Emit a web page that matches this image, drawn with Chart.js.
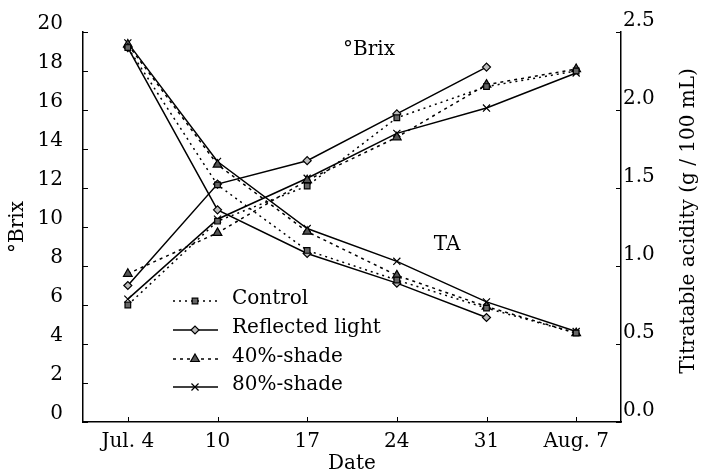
<!DOCTYPE html>
<html>
<head>
<meta charset="utf-8">
<script src="https://cdn.jsdelivr.net/npm/chart.js@4/dist/chart.umd.min.js"></script>
<style>
  body { margin: 0; background: #fff; }
  #wrap { width: 707px; height: 476px; }
</style>
</head>
<body>
<div id="wrap"><canvas id="chart" width="707" height="476"></canvas></div>
<script>
// sampling dates
const dates = ['Jul. 4', '10', '17', '24', '31', 'Aug. 7'];

// °Brix (left axis)
const brixControl   = [6.0, 10.3, 12.1, 15.6, 17.2, 18.0];
const brixReflected = [7.0, 12.2, 13.4, 15.8, 18.2, null];
const brixShade40   = [7.6, 9.7, 12.4, 14.6, 17.3, 18.1];
const brixShade80   = [6.3, 10.4, 12.5, 14.8, 16.1, 17.9];

// titratable acidity, g / 100 mL (right axis)
const taControl   = [2.40, 1.52, 1.10, 0.91, 0.73, 0.57];
const taReflected = [2.40, 1.36, 1.08, 0.89, 0.67, null];
const taShade40   = [2.42, 1.65, 1.22, 0.94, 0.74, 0.57];
const taShade80   = [2.43, 1.67, 1.24, 1.03, 0.77, 0.58];

const treatments = ['Control', 'Reflected light', '40%-shade', '80%-shade'];
const brixTicks = [0, 2, 4, 6, 8, 10, 12, 14, 16, 18, 20];
const taTicks = [0, 0.5, 1.0, 1.5, 2.0, 2.5];

const FONT = 'DejaVu Serif';
const FS = 20;

const styles = [
    { pointStyle: 'rect', radius: 4, fill: '#666', dash: [2, 4] },
    { pointStyle: 'rectRot', radius: 4, fill: '#bbb', dash: [] },
    { pointStyle: 'triangle', radius: 5, fill: '#555', dash: [3, 4] },
    { pointStyle: 'crossRot', radius: 5, fill: '#000', dash: [] }
];

function makeSet(label, data, st, axis) {
    return {
        label: label,
        data: data,
        yAxisID: axis,
        borderColor: '#000',
        borderWidth: 1.5,
        borderDash: st.dash,
        pointStyle: st.pointStyle,
        pointRadius: st.radius,
        pointBackgroundColor: st.fill,
        pointBorderColor: '#000',
        pointBorderWidth: 1.2,
        tension: 0,
        spanGaps: false
    };
}

const brixSeries = [brixControl, brixReflected, brixShade40, brixShade80];
const taSeries = [taControl, taReflected, taShade40, taShade80];
const datasets = [];
treatments.forEach(function (t, i) {
    datasets.push(makeSet(t, brixSeries[i], styles[i], 'y'));
    datasets.push(makeSet(t + ' TA', taSeries[i], styles[i], 'y1'));
});

// inward tick marks, in-plot labels, right title and legend
const decorations = {
    id: 'decorations',
    afterDraw: function (chart) {
        const ctx = chart.ctx;
        const area = chart.chartArea;
        const sx = chart.scales.x, sy = chart.scales.y, sy1 = chart.scales.y1;
        ctx.save();
        ctx.strokeStyle = '#000';
        ctx.lineWidth = 1;
        ctx.beginPath();
        sy.ticks.forEach(function (t) {
            const y = Math.round(sy.getPixelForValue(t.value)) + 0.5;
            ctx.moveTo(area.left, y); ctx.lineTo(area.left + 5, y);
        });
        sy1.ticks.forEach(function (t) {
            const y = Math.round(sy1.getPixelForValue(t.value)) + 0.5;
            ctx.moveTo(area.right, y); ctx.lineTo(area.right - 5, y);
        });
        dates.forEach(function (d, i) {
            const x = Math.round(sx.getPixelForValue(i)) + 0.5;
            ctx.moveTo(x, area.bottom); ctx.lineTo(x, area.bottom - 5);
        });
        ctx.stroke();

        ctx.fillStyle = '#000';
        ctx.font = FS + 'px "' + FONT + '"';
        ctx.textBaseline = 'middle';
        ctx.textAlign = 'center';
        ctx.fillText('°Brix', 369, 50);
        ctx.fillText('TA', 447, 245);

        // right axis title, reading bottom to top
        ctx.save();
        ctx.translate(689, 221);
        ctx.rotate(-Math.PI / 2);
        ctx.fillText('Titratable acidity (g / 100 mL)', 0, 0);
        ctx.restore();

        // legend
        ctx.textAlign = 'left';
        const rows = [299, 328, 357, 385];
        treatments.forEach(function (t, i) {
            const st = styles[i];
            const y = rows[i] + 2;
            ctx.save();
            ctx.setLineDash(st.dash);
            ctx.lineWidth = 1.5;
            ctx.beginPath();
            ctx.moveTo(173, y); ctx.lineTo(218, y);
            ctx.stroke();
            ctx.restore();
            ctx.save();
            ctx.fillStyle = st.fill;
            ctx.strokeStyle = '#000';
            ctx.lineWidth = 1.2;
            Chart.helpers.drawPoint(ctx, { pointStyle: st.pointStyle, radius: st.radius, borderWidth: 1.2 }, 195, y);
            ctx.restore();
            ctx.fillText(t, 232, rows[i]);
        });
        ctx.restore();
    }
};

new Chart(document.getElementById('chart'), {
    type: 'line',
    data: { labels: dates, datasets: datasets },
    options: {
        responsive: false,
        animation: false,
        layout: { padding: { top: 25, left: 0, right: 0, bottom: 0 } },
        plugins: {
            legend: { display: false },
            tooltip: { enabled: false }
        },
        scales: {
            x: {
                type: 'category',
                offset: true,
                grid: { display: false, drawTicks: false },
                border: { display: true, color: '#000', width: 1.5 },
                ticks: { color: '#000', font: { family: FONT, size: FS }, padding: 8, maxRotation: 0 },
                title: { display: true, text: 'Date', color: '#000', font: { family: FONT, size: FS }, padding: { top: 0, bottom: 0 } },
                afterFit: function (s) { s.height = 54; }
            },
            y: {
                position: 'left',
                min: 0, max: 20,
                grid: { display: false, drawTicks: false },
                border: { display: true, color: '#000', width: 1.5 },
                afterBuildTicks: function (s) { s.ticks = brixTicks.map(function (v) { return { value: v }; }); },
                ticks: { color: '#000', font: { family: FONT, size: FS }, padding: 20, labelOffset: -8 },
                title: { display: true, text: '°Brix', color: '#000', font: { family: FONT, size: FS }, padding: { top: 6, bottom: 0 } },
                afterFit: function (s) { s.width = 83; }
            },
            y1: {
                position: 'right',
                min: 0, max: 2.5,
                grid: { display: false, drawTicks: false },
                border: { display: true, color: '#000', width: 1.5 },
                afterBuildTicks: function (s) { s.ticks = taTicks.map(function (v) { return { value: v }; }); },
                ticks: {
                    color: '#000', font: { family: FONT, size: FS }, padding: 2, labelOffset: -11,
                    callback: function (v) { return Number(v).toFixed(1); }
                },
                title: { display: false },
                afterFit: function (s) { s.width = 86; }
            }
        }
    },
    plugins: [decorations]
});
</script>
</body>
</html>
